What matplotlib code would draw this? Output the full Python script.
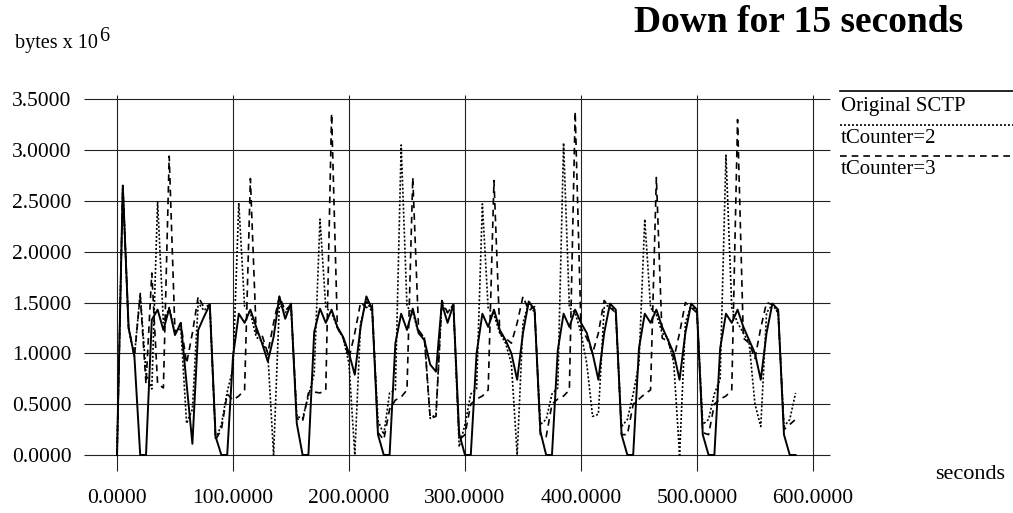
import matplotlib
matplotlib.use('Agg')
import matplotlib.pyplot as plt
from matplotlib.lines import Line2D
import numpy as np

# time axis, one sample every 5 seconds
t = np.arange(0, 590, 5)

original = [0, 2.65, 1.25, 0.97,
            0, 0, 1.33, 1.43, 1.23, 1.44, 1.18, 1.30, 0.70, 0.11, 1.23, 1.36, 1.48, 0.18,
            0, 0, 0.97, 1.39, 1.30, 1.43, 1.26, 1.10, 0.92, 1.16, 1.56, 1.34, 1.49, 0.31,
            0, 0, 1.21, 1.44, 1.30, 1.43, 1.26, 1.16, 1.00, 0.79, 1.26, 1.56, 1.43, 0.20,
            0, 0, 1.10, 1.39, 1.23, 1.44, 1.20, 1.13, 0.89, 0.82, 1.49, 1.30, 1.48, 0.21,
            0, 0, 1.00, 1.39, 1.26, 1.43, 1.23, 1.13, 1.00, 0.74, 1.20, 1.51, 1.43, 0.23,
            0, 0, 1.03, 1.39, 1.26, 1.43, 1.30, 1.20, 1.00, 0.74, 1.20, 1.49, 1.43, 0.20,
            0, 0, 1.05, 1.39, 1.30, 1.43, 1.26, 1.13, 1.00, 0.74, 1.20, 1.49, 1.43, 0.20,
            0, 0, 1.05, 1.39, 1.30, 1.43, 1.26, 1.13, 1.00, 0.74, 1.20, 1.49, 1.43, 0.20,
            0, 0]

tcounter2 = [0, 2.65, 1.25, 0.97,
             1.59, 0.80, 0.65, 2.49, 1.30, 1.45, 1.20, 1.25, 0.31, 0.45, 1.50, 1.42, 1.48, 0.15,
             0.30, 0.62, 0.85, 2.48, 1.46, 1.40, 1.16, 1.12, 1.00, 0.00, 1.49, 1.40, 1.46, 0.38,
             0.36, 0.58, 0.80, 2.32, 1.45, 1.40, 1.25, 1.15, 0.90, 0.00, 1.30, 1.52, 1.40, 0.34,
             0.20, 0.61, 0.64, 3.05, 1.46, 1.40, 1.20, 1.16, 0.36, 0.40, 1.49, 1.40, 1.48, 0.08,
             0.30, 0.60, 0.65, 2.47, 1.44, 1.38, 1.20, 1.10, 0.90, 0.00, 1.30, 1.50, 1.40, 0.30,
             0.35, 0.60, 0.66, 3.07, 1.45, 1.40, 1.20, 0.90, 0.38, 0.40, 1.45, 1.48, 1.40, 0.28,
             0.35, 0.60, 0.90, 2.32, 1.45, 1.38, 1.20, 1.15, 0.90, 0.00, 1.30, 1.48, 1.40, 0.30,
             0.35, 0.60, 0.75, 2.95, 1.45, 1.30, 1.20, 1.10, 0.50, 0.28, 1.40, 1.48, 1.40, 0.28,
             0.35, 0.61]

tcounter3 = [0, 2.65, 1.25, 0.97,
             1.57, 0.70, 1.79, 0.70, 0.66, 2.94, 1.20, 1.30, 0.90, 1.20, 1.56, 1.45, 1.48, 0.15,
             0.25, 0.60, 0.54, 0.58, 0.64, 2.72, 1.20, 1.18, 1.00, 1.30, 1.56, 1.42, 1.48, 0.36,
             0.33, 0.61, 0.62, 0.61, 0.64, 3.36, 1.25, 1.15, 0.95, 1.20, 1.50, 1.45, 1.48, 0.22,
             0.15, 0.45, 0.54, 0.57, 0.64, 2.73, 1.23, 1.15, 0.36, 0.38, 1.52, 1.40, 1.48, 0.15,
             0.20, 0.50, 0.55, 0.58, 0.64, 2.70, 1.20, 1.15, 1.10, 1.30, 1.56, 1.42, 1.46, 0.20,
             0.18, 0.50, 0.55, 0.58, 0.64, 3.38, 1.25, 1.15, 1.00, 1.20, 1.52, 1.45, 1.40, 0.20,
             0.20, 0.50, 0.55, 0.60, 0.64, 2.73, 1.15, 1.12, 0.95, 1.20, 1.50, 1.45, 1.40, 0.22,
             0.20, 0.50, 0.55, 0.58, 0.64, 3.30, 1.15, 1.10, 0.95, 1.25, 1.50, 1.48, 1.40, 0.25,
             0.30, 0.35]

names = ['Original SCTP', 'tCounter=2', 'tCounter=3']
xticks = np.arange(0, 601, 100)
yticks = np.arange(0, 3.51, 0.5)

plt.rcParams['font.family'] = ['Liberation Serif', 'DejaVu Serif']

W, H = 1013, 513
fig = plt.figure(figsize=(W / 100, H / 100), dpi=100)
# axes box in pixels: x 80..835, y 90..475
ax = fig.add_axes([80 / W, 1 - 475 / H, 755 / W, 385 / H])
ax.set_xlim(-31.9, 619.0)
ax.set_ylim(-0.197, 3.591)
for s in ax.spines.values():
    s.set_visible(False)

# grid reaching past the data, as in the original
ax.hlines(yticks, -28.4, 614.6, colors='#222222', lw=0.8, zorder=1)
ax.vlines(xticks, -0.157, 3.54, colors='#222222', lw=0.8, zorder=1)

ax.plot(t, original, color='black', lw=1.4, ls='-', zorder=4)
ax.plot(t, tcounter2, color='black', lw=1.2, ls=(0, (1.2, 1.2)), zorder=3)
ax.plot(t, tcounter3, color='black', lw=1.2, ls=(0, (4, 3)), zorder=3)

ax.set_xticks(xticks, ['%.4f' % v for v in xticks])
ax.set_yticks(yticks, ['%.4f' % v for v in yticks])
ax.tick_params(axis='both', length=0, labelsize=15.5)
ax.tick_params(axis='y', pad=6)
ax.tick_params(axis='x', pad=10)

fig.text(963 / W, 1 - 23 / H, 'Down for 15 seconds', ha='right', va='center',
         fontweight='bold', size=27)
fig.text(15 / W, 1 - 48 / H, 'bytes x 10', ha='left', va='baseline', size=14.5)
fig.text(99 / W, 1 - 41 / H, '6', ha='left', va='baseline', size=14.5)
fig.text(1005 / W, 1 - 479 / H, 'seconds', ha='right', va='baseline', size=16)

# legend drawn as in the original: a line above each name
styles = ['-', (0, (1.2, 1.2)), (0, (4, 3))]
line_y = [91, 125, 156]
text_y = [106, 139, 170]
for name, st, ly, ty in zip(names, styles, line_y, text_y):
    fig.add_artist(Line2D([840 / W, 1013 / W], [1 - ly / H, 1 - ly / H],
                          color='black', lw=1.2, ls=st, transform=fig.transFigure))
    fig.text(841 / W, 1 - ty / H, name, ha='left', va='center', size=15)

fig.savefig('out.png', dpi=100)
